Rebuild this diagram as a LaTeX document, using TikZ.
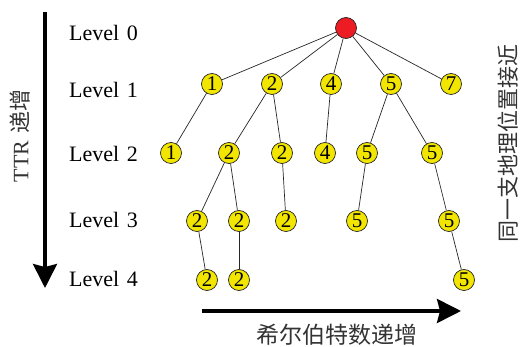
\documentclass[tikz,border=0pt]{standalone}
\usepackage{fontspec}
\setmainfont{Liberation Serif}
\newfontfamily\cjk{Noto Sans CJK SC}
\usetikzlibrary{arrows.meta}

\definecolor{treeyellow}{RGB}{242,230,0}
\definecolor{rootred}{RGB}{237,28,36}

\begin{document}
\begin{tikzpicture}[x=1pt,y=-1pt,
  leaf/.style={circle, draw=black!85, line width=0.7pt, fill=treeyellow,
    minimum size=21pt, inner sep=0pt, font=\fontsize{21}{21}\selectfont},
  rootnode/.style={leaf, fill=rootred},
  edge/.style={draw=black!85, line width=0.7pt},
  levellabel/.style={anchor=west, inner sep=0pt, font=\fontsize{22}{24}\selectfont},
  axis/.style={line width=3.3pt, -{Stealth[length=24pt,width=24pt,inset=3pt]}},
  axislabel/.style={inner sep=0pt, text=black!80, font=\fontsize{22}{24}\selectfont}
]
\useasboundingbox (0,0) rectangle (523,347);

% level labels
\node[levellabel] (l0) at (69,33) {Level\hspace{0.35em}0};
\node[levellabel] (l1) at (69,90) {Level\hspace{0.35em}1};
\node[levellabel] (l2) at (69,154) {Level\hspace{0.35em}2};
\node[levellabel] (l3) at (69,220) {Level\hspace{0.35em}3};
\node[levellabel] (l4) at (69,279) {Level\hspace{0.35em}4};

% axes
\coordinate (vtop) at (45,12);
\coordinate (vbot) at (45,288);
\coordinate (hleft) at (202,311);
\coordinate (hright) at (461,311);
\draw[axis] (vtop) -- (vbot);
\draw[axis] (hleft) -- (hright);

\node[axislabel, rotate=90] (ttr) at (20,136) {TTR\hspace{0.3em}{\cjk 递增}};
\node[axislabel, font=\fontsize{23}{25}\selectfont] (hil) at (337,335) {\cjk 希尔伯特数递增};
\node[axislabel, rotate=90] (geo) at (508,144) {\cjk 同一支地理位置接近};

% tree
\node[rootnode] (r) at (346,28) {};

\node[leaf] (a1) at (212,84) {1};
\node[leaf] (a2) at (272,84) {2};
\node[leaf] (a4) at (331,84) {4};
\node[leaf] (a5) at (391,84) {5};
\node[leaf] (a7) at (451,84) {7};

\node[leaf] (b1) at (171,153) {1};
\node[leaf] (b2) at (229,153) {2};
\node[leaf] (b3) at (282,153) {2};
\node[leaf] (b4) at (325,153) {4};
\node[leaf] (b5) at (367,153) {5};
\node[leaf] (b6) at (432,153) {5};

\node[leaf] (c1) at (197,221) {2};
\node[leaf] (c2) at (239,221) {2};
\node[leaf] (c3) at (286,221) {2};
\node[leaf] (c4) at (357,221) {5};
\node[leaf] (c5) at (449,221) {5};

\node[leaf] (d1) at (207,280) {2};
\node[leaf] (d2) at (239,280) {2};
\node[leaf] (d3) at (464,280) {5};

\foreach \a/\b in {r/a1, r/a2, r/a4, r/a5, r/a7,
                   a1/b1, a2/b2, a2/b3, a4/b4, a5/b5, a5/b6,
                   b2/c1, b2/c2, b3/c3, b5/c4, b6/c5,
                   c1/d1, c2/d2, c5/d3}
  \draw[edge] (\a) -- (\b);
\end{tikzpicture}
\end{document}
